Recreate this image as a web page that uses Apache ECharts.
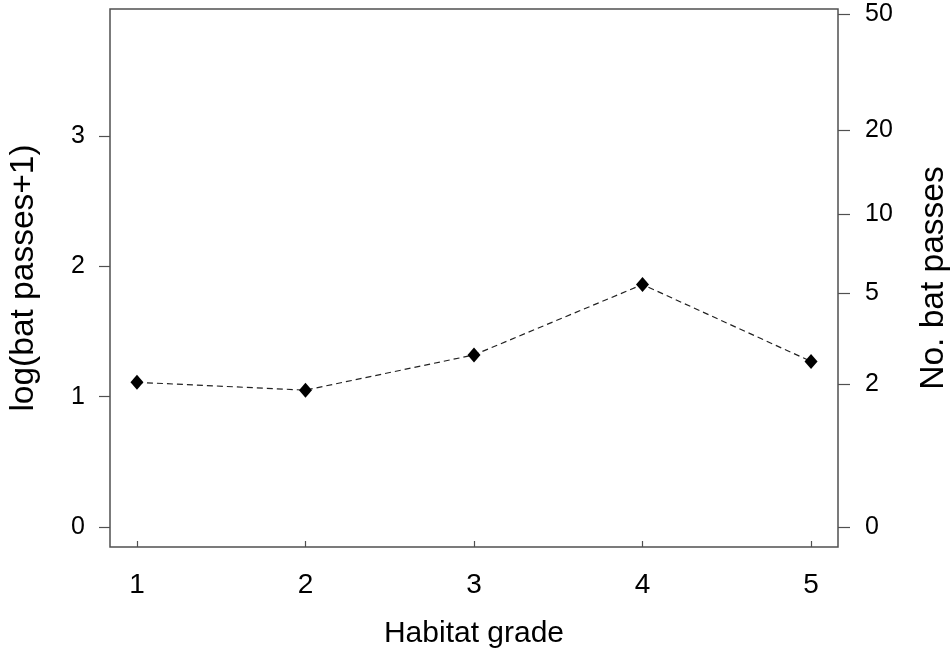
<!DOCTYPE html>
<html>
<head>
<meta charset="utf-8">
<script src="https://cdn.jsdelivr.net/npm/echarts@6/dist/echarts.min.js"></script>
<style>
  html, body { margin: 0; padding: 0; background: #fff; }
  #chart { width: 952px; height: 652px; }
</style>
</head>
<body>
<div id="chart"></div>
<script>
// Habitat grades on the x axis
const grades = [1, 2, 3, 4, 5];
// Mean log(bat passes + 1) per grade
const logPasses = [1.11, 1.05, 1.32, 1.86, 1.27];
// Tick values
const xTicks = [1, 2, 3, 4, 5];
const leftTicks = [0, 1, 2, 3];
// Right axis labels in raw pass counts (placed at log(n+1))
const rightCounts = [0, 2, 5, 10, 20, 50];

const FONT = "'Liberation Sans', Arial, sans-serif";
const Y_MIN = -0.153, Y_MAX = 3.973;

const chart = echarts.init(document.getElementById('chart'), null, { renderer: 'canvas' });

chart.setOption({
  animation: false,
  backgroundColor: '#ffffff',
  grid: {
    left: 110, right: 114, top: 9, bottom: 105,
    outerBoundsMode: 'none', containLabel: false,
    show: true, borderColor: '#505050', borderWidth: 1.5,
    backgroundColor: 'transparent'
  },
  xAxis: {
    type: 'value', min: 0.84, max: 5.16,
    axisLine: { show: false, onZero: false },
    splitLine: { show: false },
    axisTick: { show: true, inside: true, length: 6, customValues: xTicks,
      lineStyle: { color: '#505050', width: 1.2 } },
    axisLabel: { customValues: xTicks, margin: 24, color: '#000',
      fontFamily: FONT, fontSize: 28 },
    name: 'Habitat grade', nameLocation: 'middle', nameGap: 72,
    nameTextStyle: { color: '#000', fontFamily: FONT, fontSize: 30 }
  },
  yAxis: [
    {
      type: 'value', position: 'left', min: Y_MIN, max: Y_MAX,
      axisLine: { show: false, onZero: false },
      splitLine: { show: false },
      axisTick: { show: true, length: 11, customValues: leftTicks,
        lineStyle: { color: '#505050', width: 1.2 } },
      axisLabel: { customValues: leftTicks, margin: 25, color: '#000',
        fontFamily: FONT, fontSize: 25 },
      name: 'log(bat passes+1)', nameLocation: 'middle', nameGap: 69, nameRotate: 90,
      nameTextStyle: { color: '#000', fontFamily: FONT, fontSize: 33.5 }
    },
    {
      type: 'value', position: 'right', min: Y_MIN, max: Y_MAX,
      axisLine: { show: false, onZero: false },
      splitLine: { show: false },
      axisTick: { show: true, length: 12, customValues: rightCounts.map(n => Math.log(n + 1)),
        lineStyle: { color: '#505050', width: 1.2 } },
      axisLabel: {
        customValues: rightCounts.map(n => Math.log(n + 1)),
        formatter: v => String(Math.round(Math.exp(v) - 1)),
        margin: 27, color: '#000', fontFamily: FONT, fontSize: 25
      },
      name: 'No. bat passes', nameLocation: 'middle', nameGap: 79, nameRotate: 90,
      nameTextStyle: { color: '#000', fontFamily: FONT, fontSize: 33.5 }
    }
  ],
  series: [{
    type: 'line',
    data: grades.map((g, i) => [g, logPasses[i]]),
    symbol: 'diamond', symbolSize: [13, 15],
    itemStyle: { color: '#000' },
    lineStyle: { color: '#222', width: 1.2, type: [6, 4] }
  }]
});
</script>
</body>
</html>
